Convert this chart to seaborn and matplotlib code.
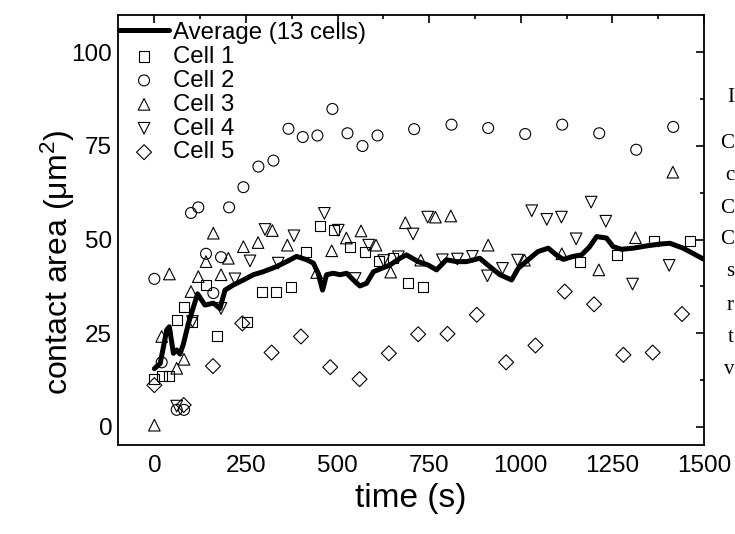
import matplotlib
matplotlib.use("Agg")
import matplotlib.pyplot as plt
import seaborn as sns
import pandas as pd

# ---------------- data ----------------
avg_t = [0, 16, 34, 41, 52, 61, 70, 79, 93, 102, 118, 138, 161, 179, 193, 216, 243, 270,
         297, 334, 361, 388, 416, 434, 447, 459, 470, 488, 507, 525, 543, 561, 579, 598,
         620, 643, 670, 688, 720, 747, 770, 797, 825, 852, 888, 915, 943, 975, 993, 1020,
         1047, 1075, 1097, 1116, 1143, 1166, 1188, 1207, 1234, 1252, 1275, 1307, 1343,
         1379, 1407, 1443, 1470, 1500]
avg_v = [15.5, 16.9, 25.9, 26.7, 19.6, 20.5, 19.4, 22.0, 27.6, 30.5, 35.5, 32.5, 33.0,
         31.6, 36.5, 37.9, 39.2, 40.6, 41.4, 42.8, 44.1, 45.5, 44.6, 43.7, 41.0, 36.5,
         40.6, 41.0, 40.6, 41.0, 39.2, 37.6, 38.3, 41.4, 42.3, 43.2, 45.0, 45.9, 44.1,
         43.2, 41.9, 44.6, 44.1, 44.1, 45.0, 42.8, 40.6, 39.2, 42.3, 44.6, 46.8, 47.7,
         45.9, 44.7, 45.5, 45.9, 48.1, 50.8, 50.4, 48.1, 47.4, 47.7, 48.3, 48.8, 49.0,
         47.7, 46.3, 44.7]

cell1_t = [0, 20, 40, 61, 81, 102, 141, 172, 252, 293, 332, 372, 414, 452, 490, 534,
           575, 614, 652, 691, 734, 1161, 1263, 1363, 1463]
cell1_v = [12.7, 13.5, 13.5, 28.5, 31.9, 27.9, 37.9, 24.1, 28.1, 35.9, 36.1, 37.4, 46.8,
           53.7, 52.6, 48.1, 46.6, 44.2, 45.0, 38.4, 37.4, 44.1, 45.9, 49.5, 49.5]

cell2_t = [0, 20, 61, 81, 100, 120, 141, 161, 182, 204, 243, 284, 325, 366, 405, 445,
           486, 527, 568, 609, 709, 811, 911, 1012, 1113, 1214, 1315, 1416]
cell2_v = [39.5, 17.2, 4.5, 4.5, 57.1, 58.6, 46.2, 35.7, 45.3, 58.6, 64.0, 69.5, 71.1,
           79.6, 77.4, 77.8, 84.9, 78.4, 75.0, 77.8, 79.5, 80.7, 79.8, 78.2, 80.7, 78.4,
           74.0, 80.1]

cell3_t = [0, 20, 41, 61, 81, 100, 120, 141, 161, 182, 202, 243, 283, 322, 363, 443,
           484, 524, 564, 605, 645, 685, 727, 767, 809, 911, 1010, 1112, 1213, 1313, 1415]
cell3_v = [0.4, 24.1, 40.8, 15.6, 18.0, 36.1, 40.1, 44.1, 51.7, 40.6, 45.0, 48.1, 49.2,
           52.4, 48.5, 41.2, 47.0, 50.4, 52.3, 48.5, 41.3, 54.5, 44.5, 56.0, 56.3, 48.5,
           44.5, 46.2, 41.9, 50.5, 68.0]

cell4_t = [61, 104, 182, 220, 261, 302, 338, 381, 464, 502, 548, 585, 626, 666, 706,
           746, 786, 827, 868, 909, 950, 991, 1030, 1071, 1111, 1151, 1192, 1232, 1305, 1405]
cell4_v = [5.5, 28.1, 31.6, 39.5, 44.3, 52.7, 43.7, 51.0, 57.0, 52.5, 39.6, 48.5, 44.4,
           45.4, 51.5, 56.0, 44.6, 44.8, 45.5, 40.3, 42.3, 44.5, 57.7, 55.4, 56.0, 50.2,
           60.0, 54.9, 38.1, 43.1]

cell5_t = [0, 80, 160, 240, 320, 400, 480, 560, 640, 720, 800, 880, 960, 1040, 1120,
           1200, 1280, 1360, 1440]
cell5_v = [11.1, 5.8, 16.2, 27.6, 19.8, 24.1, 15.9, 12.7, 19.6, 24.7, 24.8, 29.9, 17.2,
           21.7, 36.1, 32.7, 19.2, 19.8, 30.1]

x_ticks = [0, 250, 500, 750, 1000, 1250, 1500]
x_minor = [125, 375, 625, 875, 1125, 1375]
y_ticks = [0, 25, 50, 75, 100]
y_minor = [12.5, 37.5, 62.5, 87.5]

side_letters = ["I", "C", "c", "C", "C", "s", "r", "t", "v"]

# ---------------- styling ----------------
sns.set_theme(style="white")
plt.rcParams["font.family"] = ["Liberation Sans", "DejaVu Sans"]
plt.rcParams["mathtext.fontset"] = "custom"
plt.rcParams["mathtext.rm"] = "Liberation Sans"
plt.rcParams["mathtext.it"] = "Liberation Sans"
plt.rcParams["text.color"] = "black"
plt.rcParams["axes.labelcolor"] = "black"
plt.rcParams["xtick.color"] = "black"
plt.rcParams["ytick.color"] = "black"

W, H = 735, 534
fig = plt.figure(figsize=(W / 100, H / 100), dpi=100)
ax_l, ax_r, ax_t, ax_b = 117.7, 704, 15, 445.4
ax = fig.add_axes([ax_l / W, 1 - ax_b / H, (ax_r - ax_l) / W, (ax_b - ax_t) / H])

cells = [
    ("Cell 1", cell1_t, cell1_v, "s", 52),
    ("Cell 2", cell2_t, cell2_v, "o", 62),
    ("Cell 3", cell3_t, cell3_v, "^", 70),
    ("Cell 4", cell4_t, cell4_v, "v", 70),
    ("Cell 5", cell5_t, cell5_v, "D", 58),
]

df_avg = pd.DataFrame({"t": avg_t, "v": avg_v})
sns.lineplot(data=df_avg, x="t", y="v", ax=ax, color="black", linewidth=3.6,
             label="Average (13 cells)", zorder=5, sort=False)

for name, t, v, m, s in cells:
    d = pd.DataFrame({"t": t, "v": v})
    sns.scatterplot(data=d, x="t", y="v", ax=ax, marker=m, s=s, facecolors="none",
                    edgecolor="black", linewidth=0.8, label=name, zorder=3)

ax.set_xlim(-100, 1500)
ax.set_ylim(-5, 110)
ax.set_xticks(x_ticks)
ax.set_yticks(y_ticks)
ax.set_xticks(x_minor, minor=True)
ax.set_yticks(y_minor, minor=True)
ax.tick_params(which="both", direction="in", top=True, right=True, width=1.2,
               labelsize=17.5, colors="black")
ax.tick_params(which="major", length=6)
ax.tick_params(which="minor", length=3)
ax.tick_params(axis="x", pad=7)
ax.tick_params(axis="y", pad=4)
for sp in ax.spines.values():
    sp.set_visible(True)
    sp.set_color("black")
    sp.set_linewidth(1.3)

ax.set_xlabel("time (s)", fontsize=24, labelpad=4, color="black")
ax.set_ylabel(r"contact area ($\mathregular{\mu m^2}$)", fontsize=23, color="black")
ax.yaxis.set_label_coords(-0.07, (ax_b - 262) / (ax_b - ax_t))

leg = ax.legend(loc="upper left", bbox_to_anchor=(-0.002, 1 - 4 / 430),
                borderaxespad=0.0, frameon=False, fontsize=17.3, handlelength=2.05,
                handletextpad=0.2, labelspacing=0.08, borderpad=0.12)
for h in leg.legend_handles:
    try:
        h.set_facecolor("none")
        h.set_edgecolor("black")
    except Exception:
        pass
for txt in leg.get_texts():
    txt.set_color("black")

# cropped letters of neighbouring text at the right edge
side_y = [97, 143, 175, 208, 240, 272, 305, 337, 370]
for ch, yy in zip(side_letters, side_y):
    fig.text(734 / W, 1 - yy / H, ch, fontsize=15, family="Liberation Serif",
             va="center", ha="right", color="black")

fig.savefig("out.png", dpi=100)
